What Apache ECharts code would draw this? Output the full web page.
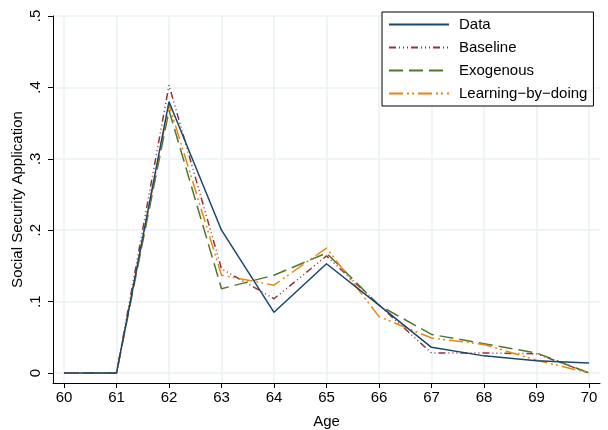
<!DOCTYPE html>
<html>
<head>
<meta charset="utf-8">
<script src="https://cdn.jsdelivr.net/npm/echarts@6/dist/echarts.min.js"></script>
<style>
  html, body { margin: 0; padding: 0; background: #fff; }
  #chart { width: 608px; height: 430px; }
</style>
</head>
<body>
<div id="chart"></div>
<script>
// ages on the x axis
var ages = [60, 61, 62, 63, 64, 65, 66, 67, 68, 69, 70];
var yTicks = [0, 0.1, 0.2, 0.3, 0.4, 0.5];

// share applying at each age
var dataVals      = [0, 0, 0.380, 0.200, 0.085, 0.153, 0.095, 0.036, 0.024, 0.017, 0.014];
var baselineVals  = [0, 0, 0.403, 0.146, 0.104, 0.164, 0.095, 0.028, 0.028, 0.027, 0.000];
var exogenousVals = [0, 0, 0.368, 0.118, 0.137, 0.168, 0.095, 0.054, 0.041, 0.028, 0.000];
var lbdVals       = [0, 0, 0.376, 0.137, 0.123, 0.175, 0.079, 0.049, 0.040, 0.018, 0.000];

function pairs(vals) {
  return ages.map(function (a, i) { return [a, vals[i]]; });
}

var font = 'Liberation Sans, Arial, sans-serif';

var myChart = echarts.init(document.getElementById('chart'));

myChart.setOption({
  animation: false,
  backgroundColor: '#fff',
  grid: { left: 53, right: 8, top: 16, bottom: 47, outerBoundsMode: 'none', containLabel: false },
  legend: {
    orient: 'vertical',
    left: 382,
    top: 12,
    padding: [5, 6, 5, 6],
    itemWidth: 60,
    itemHeight: 14,
    itemGap: 8,
    backgroundColor: '#fff',
    borderColor: '#000',
    borderWidth: 1,
    borderRadius: 0,
    itemStyle: { opacity: 0 },
    textStyle: { fontFamily: font, fontSize: 15, color: '#000', padding: [0, 0, 0, 5] },
    data: ['Data', 'Baseline', 'Exogenous', 'Learning−by−doing']
  },
  xAxis: {
    type: 'value',
    min: 59.79,
    max: 70.21,
    name: 'Age',
    nameLocation: 'middle',
    nameGap: 31,
    nameMoveOverlap: false,
    nameTextStyle: { fontFamily: font, fontSize: 15, color: '#000' },
    axisLine: { show: true, onZero: false, lineStyle: { color: '#000', width: 1 } },
    axisTick: { show: true, length: 5, customValues: ages, lineStyle: { color: '#000' } },
    axisLabel: { customValues: ages, fontFamily: font, fontSize: 15, color: '#000', margin: 7 },
    splitLine: { show: true, lineStyle: { color: '#eaf2f3', width: 1.5 } }
  },
  yAxis: {
    type: 'value',
    min: -0.014,
    max: 0.5,
    name: 'Social Security Application',
    nameLocation: 'middle',
    nameGap: 28,
    nameMoveOverlap: false,
    nameTextStyle: { fontFamily: font, fontSize: 15, color: '#000' },
    axisLine: { show: true, onZero: false, lineStyle: { color: '#000', width: 1 } },
    axisTick: { show: true, length: 5, customValues: yTicks, lineStyle: { color: '#000' } },
    axisLabel: {
      customValues: yTicks,
      rotate: 90,
      fontFamily: font,
      fontSize: 15,
      color: '#000',
      margin: 10,
      formatter: function (v) {
        return v === 0 ? '0' : String(Math.round(v * 10) / 10).replace(/^0/, '');
      }
    },
    splitLine: { show: true, lineStyle: { color: '#eaf2f3', width: 1.5 } }
  },
  series: [
    {
      name: 'Data', type: 'line', data: pairs(dataVals), symbol: 'none',
      lineStyle: { color: '#1a476f', width: 1.5 }, itemStyle: { color: '#1a476f' }, z: 5
    },
    {
      name: 'Baseline', type: 'line', data: pairs(baselineVals), symbol: 'none',
      lineStyle: { color: '#90353b', width: 1.5, type: [7, 3, 1, 3, 1, 3, 1, 3] }, itemStyle: { color: '#90353b' }
    },
    {
      name: 'Exogenous', type: 'line', data: pairs(exogenousVals), symbol: 'none',
      lineStyle: { color: '#55752f', width: 1.5, type: [14, 6] }, itemStyle: { color: '#55752f' }
    },
    {
      name: 'Learning−by−doing', type: 'line', data: pairs(lbdVals), symbol: 'none',
      lineStyle: { color: '#e8870e', width: 1.5, type: [14, 4, 2, 3, 2, 4] }, itemStyle: { color: '#e8870e' }
    }
  ]
});
</script>
</body>
</html>
